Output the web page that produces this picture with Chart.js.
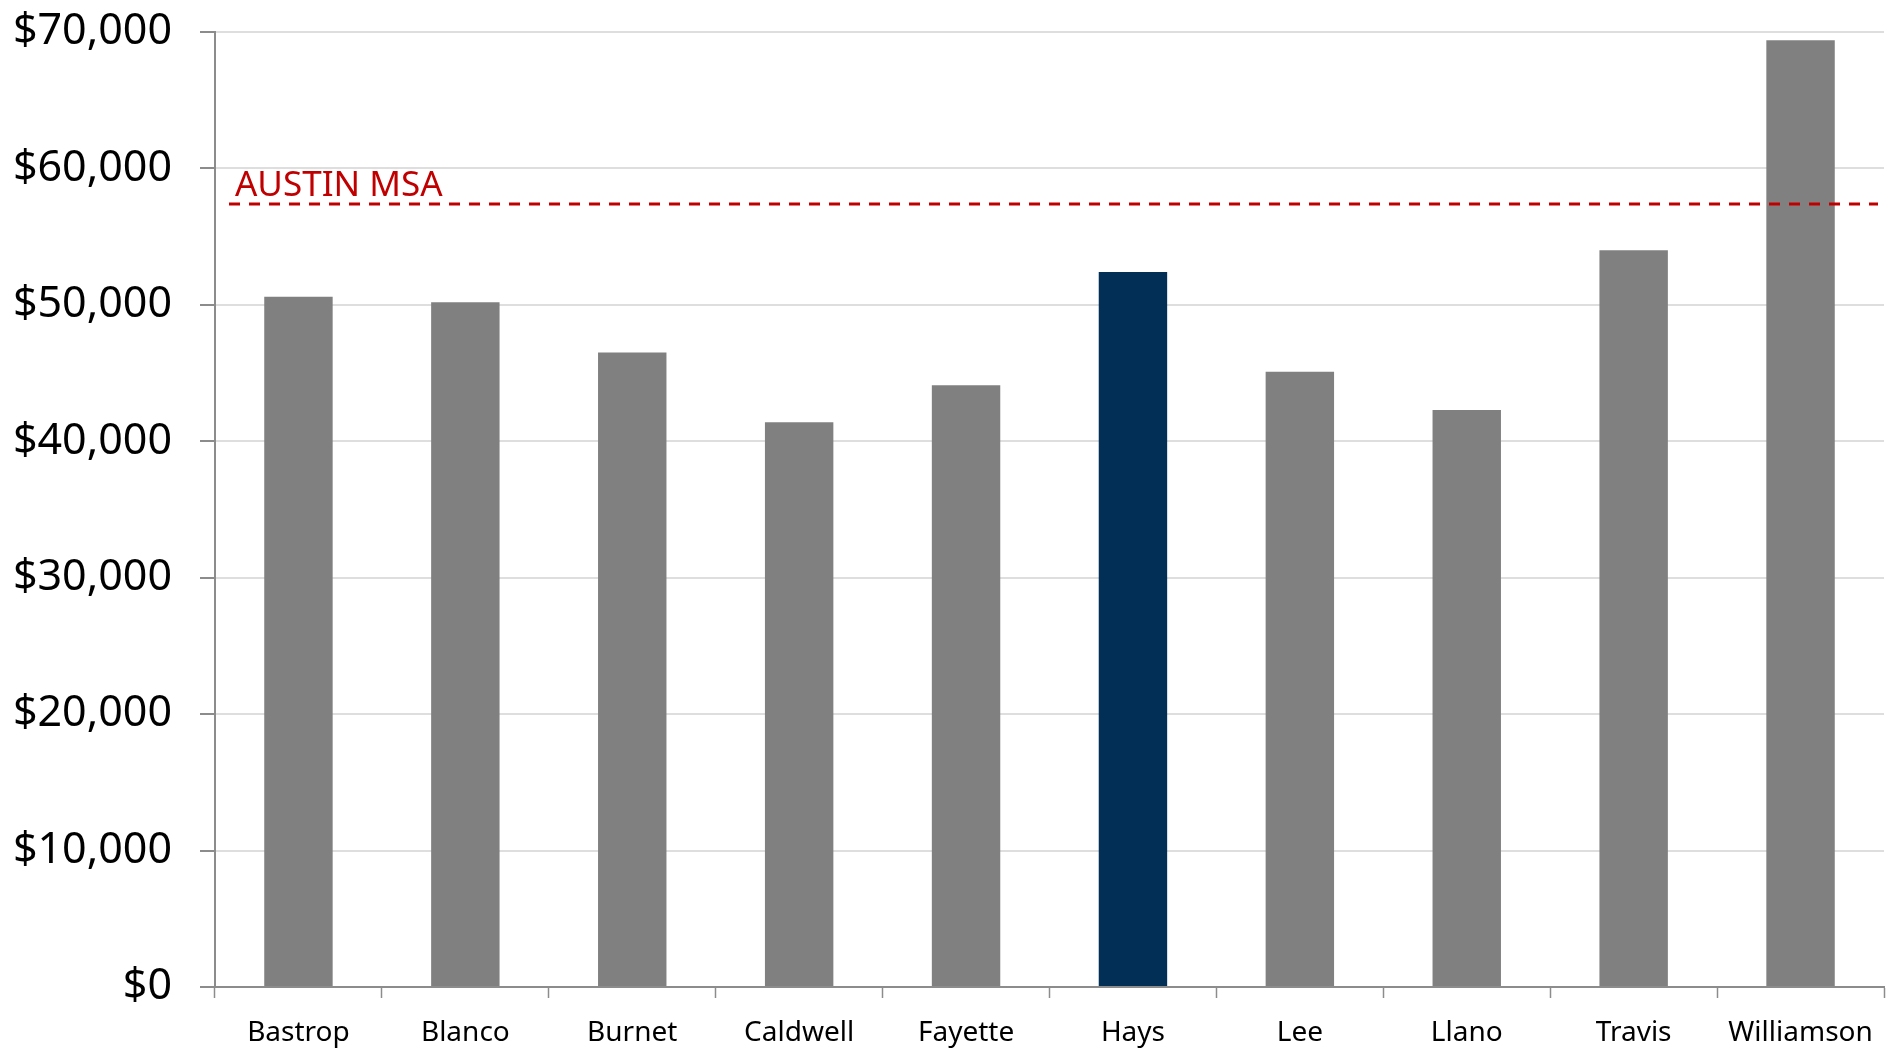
<!DOCTYPE html>
<html>
<head>
<meta charset="utf-8">
<script src="https://cdn.jsdelivr.net/npm/chart.js@4.4.1/dist/chart.umd.min.js"></script>
<style>
  html, body { margin: 0; padding: 0; background: #fff; }
  #wrap { width: 1900px; height: 1050px; position: relative; }
</style>
</head>
<body>
<div id="wrap"><canvas id="incomeChart"></canvas></div>
<script>
// county values
const counties = ["Bastrop", "Blanco", "Burnet", "Caldwell", "Fayette", "Hays", "Lee", "Llano", "Travis", "Williamson"];
const incomes = [50600, 50200, 46500, 41400, 44100, 52400, 45100, 42300, 54000, 69400];
const highlightCounty = "Hays";
const austinMsa = 57400;
const austinLabel = "AUSTIN MSA";
const yTicks = [0, 10000, 20000, 30000, 40000, 50000, 60000, 70000];

const barColors = counties.map((c) => (c === highlightCounty ? "#022f55" : "#808080"));

// dashed reference line for the metro average
const msaLinePlugin = {
  id: "msaLine",
  afterDatasetsDraw(chart) {
    const { ctx, chartArea, scales } = chart;
    const y = scales.y.getPixelForValue(austinMsa);
    ctx.save();
    ctx.strokeStyle = "#c00000";
    ctx.lineWidth = 3;
    ctx.setLineDash([11, 9]);
    ctx.beginPath();
    ctx.moveTo(chartArea.left + 14, y);
    ctx.lineTo(chartArea.right - 6, y);
    ctx.stroke();
    ctx.setLineDash([]);
    ctx.fillStyle = "#c00000";
    ctx.font = "35px 'Noto Sans'";
    ctx.textBaseline = "alphabetic";
    ctx.fillText(austinLabel, chartArea.left + 20, y - 8);
    ctx.restore();
  },
};

new Chart(document.getElementById("incomeChart"), {
  type: "bar",
  data: {
    labels: counties,
    datasets: [
      {
        data: incomes,
        backgroundColor: barColors,
        barPercentage: 0.41,
        categoryPercentage: 1,
      },
    ],
  },
  options: {
    responsive: true,
    maintainAspectRatio: false,
    animation: false,
    layout: { padding: { top: 32, right: 16, bottom: 0, left: 0 } },
    plugins: {
      legend: { display: false },
      tooltip: { enabled: false },
    },
    scales: {
      x: {
        afterFit: (scale) => {
          scale.height = 63;
          scale.paddingLeft = 0;
          scale.paddingRight = 0;
        },
        grid: {
          offset: true,
          drawOnChartArea: false,
          drawTicks: true,
          tickLength: 11,
          tickColor: "#8c8c8c",
          tickWidth: 1.5,
        },
        border: { display: true, color: "#8c8c8c", width: 2 },
        ticks: {
          color: "#000",
          padding: 18,
          font: { family: "'Noto Sans'", size: 28 },
          maxRotation: 0,
        },
      },
      y: {
        min: 0,
        max: 70000,
        afterFit: (scale) => {
          scale.width = 215;
          scale.paddingTop = 0;
          scale.paddingBottom = 0;
        },
        afterBuildTicks: (scale) => {
          scale.ticks = yTicks.map((v) => ({ value: v }));
        },
        grid: {
          color: "#dedede",
          lineWidth: 2,
          drawTicks: true,
          tickLength: 15,
          tickColor: "#8c8c8c",
          tickWidth: 2,
        },
        border: { display: true, color: "#8c8c8c", width: 2 },
        ticks: {
          color: "#000",
          padding: 28,
          font: { family: "'Noto Sans'", size: 43 },
          callback: (value) => "$" + value.toLocaleString("en-US"),
        },
      },
    },
  },
  plugins: [msaLinePlugin],
});
</script>
</body>
</html>
